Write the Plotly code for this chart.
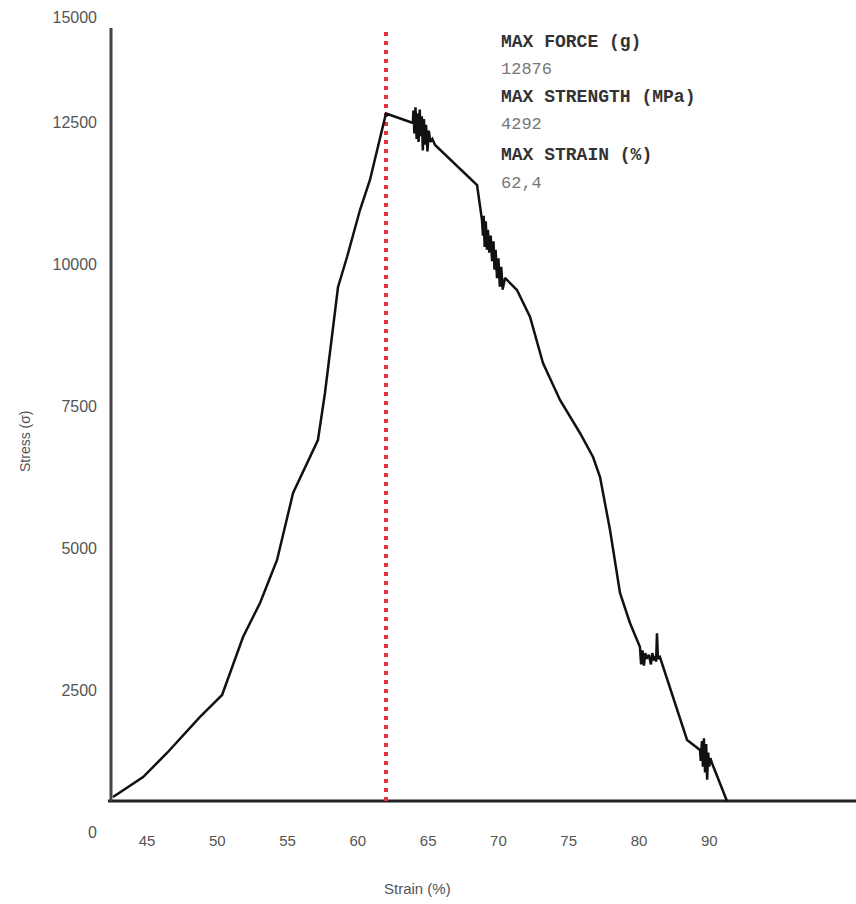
import plotly.graph_objects as go

# ---------------- data ----------------
strain = [
    42.58, 44.72, 46.42, 48.77, 50.34, 51.83, 53.04, 54.25, 55.39, 57.16,
    57.66, 58.02, 58.59, 59.23, 60.15, 60.86, 62.00, 63.92,
    63.95, 64.02, 64.10, 64.18, 64.25, 64.32, 64.40, 64.48, 64.55, 64.62,
    64.70, 64.78, 64.85, 64.95, 65.05, 65.15, 65.30, 65.49,
    68.48, 68.83,
    68.90, 68.95, 69.02, 69.10, 69.18, 69.25, 69.35, 69.45, 69.55, 69.65,
    69.72, 69.80, 69.90, 70.00, 70.10, 70.20, 70.30, 70.47,
    71.32, 72.25, 73.17, 74.38, 75.80, 76.73, 77.23, 77.94, 78.65, 79.36, 80.07,
    80.15, 80.25, 80.35, 80.45, 80.55, 80.70, 80.85, 80.95, 81.05, 81.15,
    81.22, 81.28, 81.35, 81.49,
    83.42, 84.34,
    84.40, 84.48, 84.55, 84.62, 84.70, 84.78, 84.85, 84.92, 85.00, 85.08, 85.19,
    86.26,
]
stress = [
    616, 968, 1391, 2025, 2412, 3433, 4032, 4789, 5968, 6901,
    7729, 8433, 9595, 10123, 10951, 11479, 12650, 12482,
    12700, 12300, 12760, 12200, 12650, 12150, 12720, 12250, 12600, 12000,
    12550, 12100, 12450, 11980, 12350, 12150, 12200, 12095,
    11391, 10775,
    10500, 10850, 10300, 10750, 10250, 10600, 10200, 10500, 10050, 10400,
    9900, 10250, 9750, 10100, 9600, 9950, 9550, 9754,
    9542, 9067, 8257, 7606, 7025, 6602, 6250, 5317, 4208, 3680, 3257,
    2950, 3200, 2930, 3150, 3050, 3120, 2950, 3150, 3020, 3100,
    3000, 3500, 3050, 3081,
    1620, 1444,
    1250, 1600, 1150, 1650, 1050, 1550, 920, 1400, 1150, 1300, 1215,
    546,
]

peak_strain_line = 62.0
baseline_stress = 546
line_top_stress = 14155

x_tick_vals = [45, 50, 55, 60, 65, 70, 75, 80, 85]
x_tick_text = ["45", "50", "55", "60", "65", "70", "75", "80", "90"]
y_tick_vals = [0, 2500, 5000, 7500, 10000, 12500, 14350]
y_tick_text = ["0", "2500", "5000", "7500", "10000", "12500", "15000"]

info_labels = ["MAX FORCE (g)", "MAX STRENGTH (MPa)", "MAX STRAIN (%)"]
info_values = ["12876", "4292", "62,4"]

# ---------------- layout geometry ----------------
W, H = 856, 904
L, R, T, B = 105, 0, 10, 54
PW, PH = W - L - R, H - T - B


def px_x(px):
    return (px - L) / PW


def px_y(py):
    return (H - B - py) / PH


fig = go.Figure()

fig.add_trace(go.Scatter(
    x=[peak_strain_line, peak_strain_line],
    y=[baseline_stress, line_top_stress],
    mode="lines",
    line=dict(color="#e5323c", width=4, dash="4px,5px"),
    hoverinfo="skip",
    showlegend=False,
))

fig.add_trace(go.Scatter(
    x=strain, y=stress,
    mode="lines",
    line=dict(color="#111111", width=2.5),
    showlegend=False,
))

shapes = [
    dict(type="line", xref="paper", yref="y",
         x0=px_x(108), x1=1, y0=baseline_stress, y1=baseline_stress,
         line=dict(color="#222222", width=3), layer="below"),
    dict(type="line", xref="paper", yref="y",
         x0=px_x(111), x1=px_x(111), y0=baseline_stress, y1=line_top_stress,
         line=dict(color="#444444", width=3), layer="below"),
]

mono = "Liberation Mono, Courier New, monospace"
sans = "Liberation Sans, Arial, sans-serif"

annotations = []
ys = [42, 97, 155]
for lab, val, yy in zip(info_labels, info_values, ys):
    annotations.append(dict(
        text="<b>" + lab + "</b>", x=px_x(499), y=px_y(yy),
        xref="paper", yref="paper", xanchor="left", yanchor="middle",
        showarrow=False,
        font=dict(family=mono, size=18, color="#333333"),
    ))
    annotations.append(dict(
        text=val, x=px_x(499), y=px_y(yy + 28),
        xref="paper", yref="paper", xanchor="left", yanchor="middle",
        showarrow=False,
        font=dict(family=mono, size=17, color="#777777"),
    ))

annotations.append(dict(
    text="Strain (%)", x=px_x(417), y=px_y(888), xref="paper", yref="paper",
    xanchor="center", yanchor="middle", showarrow=False,
    font=dict(family=sans, size=15, color="#555555"),
))
annotations.append(dict(
    text="Stress (σ)", x=px_x(25), y=px_y(441), xref="paper", yref="paper",
    xanchor="center", yanchor="middle", showarrow=False, textangle=-90,
    font=dict(family=sans, size=14, color="#555555"),
))

fig.update_layout(
    width=W, height=H,
    margin=dict(l=L, r=R, t=T, b=B, pad=0),
    paper_bgcolor="white", plot_bgcolor="white",
    shapes=shapes, annotations=annotations,
    xaxis=dict(
        range=[42.01, 95.44], tickvals=x_tick_vals, ticktext=x_tick_text,
        showgrid=False, zeroline=False, showline=False, ticks="",
        anchor="free", position=px_y(830),
        tickfont=dict(family=sans, size=15, color="#555555"),
    ),
    yaxis=dict(
        range=[-317, 14472], tickvals=y_tick_vals, ticktext=y_tick_text,
        showgrid=False, zeroline=False, showline=False, ticks="",
        ticklabelstandoff=7,
        tickfont=dict(family=sans, size=16, color="#555555"),
    ),
)

fig.write_html("out.html")
